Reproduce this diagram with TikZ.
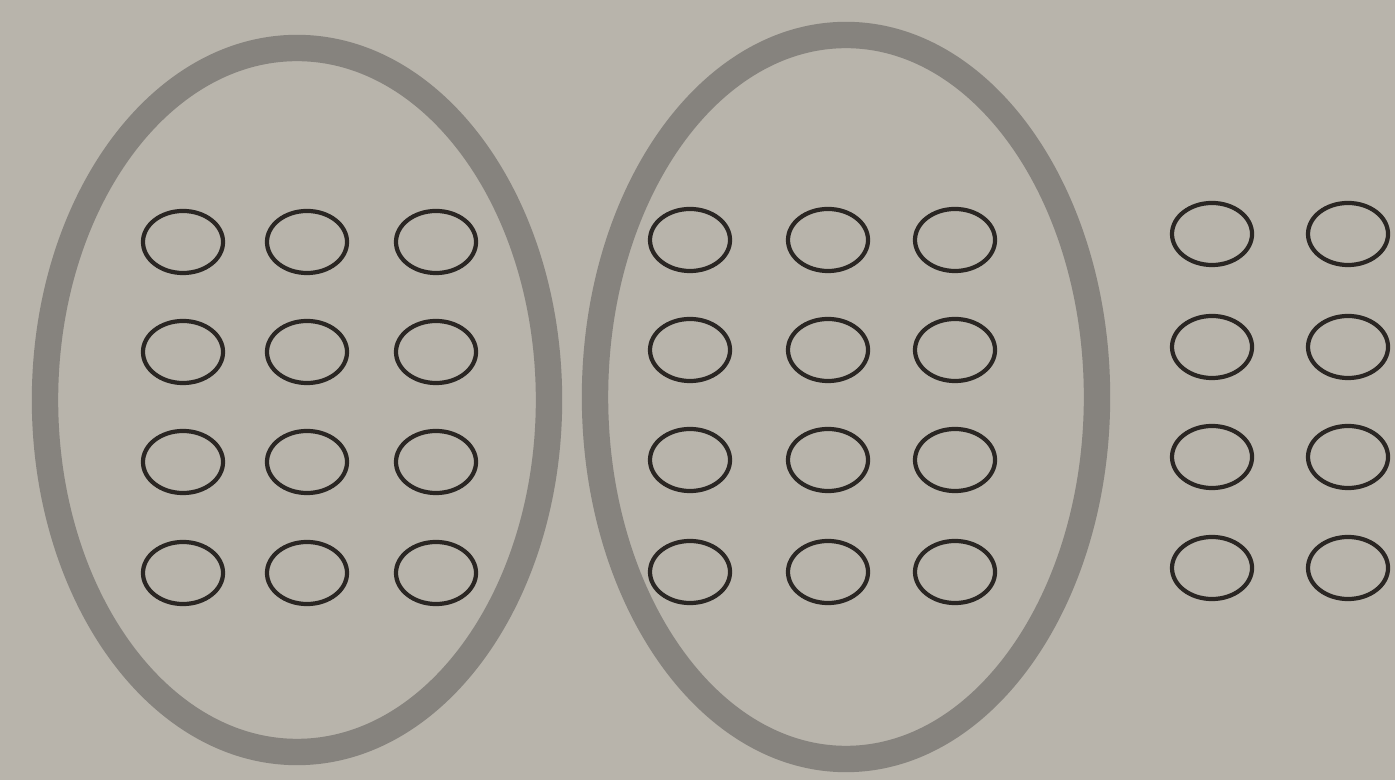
\documentclass[tikz,border=0pt]{standalone}
\usetikzlibrary{shapes.geometric}
\definecolor{paper}{HTML}{B8B4AB}
\definecolor{loopgray}{HTML}{86837E}
\definecolor{ink}{HTML}{2A2623}

\begin{document}
\begin{tikzpicture}[x=0.01cm, y=-0.01cm,
  ring/.style={ellipse,draw=ink,line width=1.2pt,minimum width=0.8cm,minimum height=0.62cm,inner sep=0pt},
  bigloop/.style={draw=loopgray,line width=7.5pt}]

% Paper
\fill[paper] (0,0) rectangle (1395,780);
\useasboundingbox (0,0) rectangle (1395,780);

% Big loops
\draw[bigloop] (297,400) ellipse [x radius=252, y radius=352];
\draw[bigloop] (846,397) ellipse [x radius=251, y radius=362];

% Group 1 (inside first loop)
\foreach \c/\x in {1/183,2/307,3/436} {
  \foreach \r/\y in {1/242,2/352,3/462,4/573} {
    \node[ring] (a\r\c) at (\x,\y) {};
  }
}

% Group 2 (inside second loop)
\foreach \c/\x in {1/690,2/828,3/955} {
  \foreach \r/\y in {1/240,2/350,3/460,4/572} {
    \node[ring] (b\r\c) at (\x,\y) {};
  }
}

% Group 3 (left over)
\foreach \c/\x in {1/1212,2/1348} {
  \foreach \r/\y in {1/234,2/347,3/457,4/568} {
    \node[ring] (c\r\c) at (\x,\y) {};
  }
}

\end{tikzpicture}
\end{document}
